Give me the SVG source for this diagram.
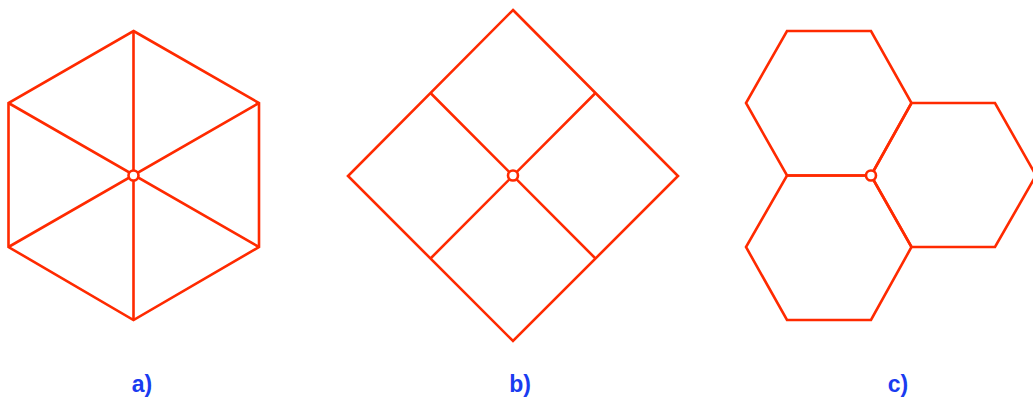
<svg xmlns="http://www.w3.org/2000/svg" width="1033" height="401" viewBox="0 0 1033 401">
<style>
.l{fill:none;stroke:#ff2a00;stroke-width:2.6;stroke-linejoin:miter;stroke-linecap:butt}
.c{fill:#fff;stroke:#ff2a00;stroke-width:2.6}
.t{font-family:"Liberation Sans",Arial,sans-serif;font-weight:bold;font-size:23px;fill:#1a3cf0;text-anchor:middle}
</style>
<rect width="1033" height="401" fill="#fff"/>
<g id="fig-a">
<polygon class="l" points="133.5,31 259,103 259,247 133.5,320 8.5,247 8.5,103"/>
<path class="l" d="M133.5,31V320M259,103L8.5,247M259,247L8.5,103"/>
<circle class="c" cx="133.5" cy="175.5" r="5"/>
</g>
<g id="fig-b">
<polygon class="l" points="513,10 678,176 513,341 348,176"/>
<path class="l" d="M430.5,93L595.5,258.5M595.5,93L430.5,258.5"/>
<circle class="c" cx="513" cy="175.5" r="5"/>
</g>
<g id="fig-c">
<polygon class="l" points="787,31 871,31 911.5,103 871,175.5 787,175.5 746,103"/>
<polygon class="l" points="911.5,103 995,103 1036,175.5 995,247 911.5,247 871,175.5"/>
<polygon class="l" points="787,175.5 871,175.5 911.5,247 871,320 787,320 746,247"/>
<circle class="c" cx="871" cy="175.5" r="5"/>
</g>
<g id="labels">
<text class="t" x="142" y="392">a)</text>
<text class="t" x="520" y="392">b)</text>
<text class="t" x="898" y="392">c)</text>
</g>
</svg>
